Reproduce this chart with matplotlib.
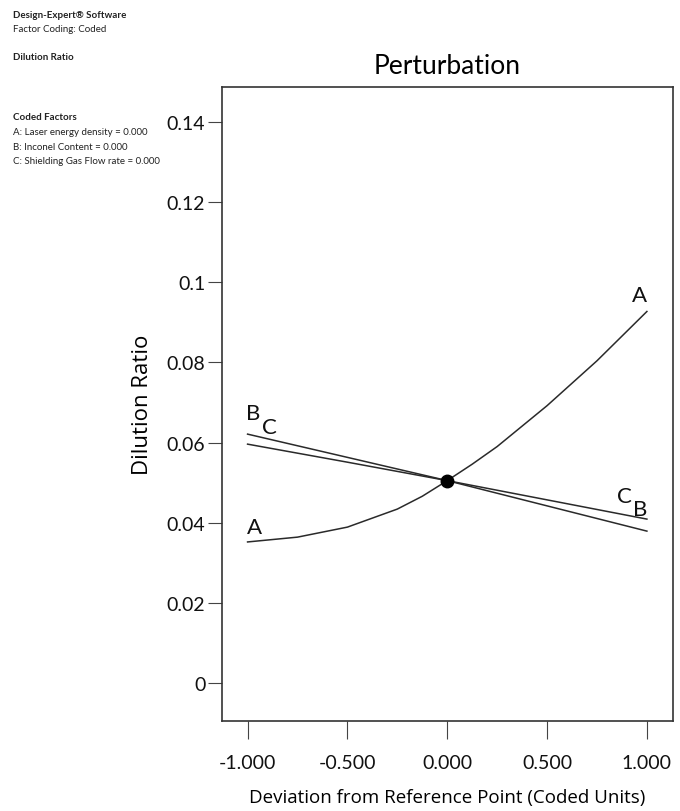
import numpy as np
import matplotlib
matplotlib.use("Agg")
import matplotlib.pyplot as plt

plt.rcParams['font.family'] = ['Lato', 'DejaVu Sans']

# coded deviation from reference point
x_a = [-1.0, -0.75, -0.5, -0.25, -0.125, 0.0, 0.125, 0.25, 0.5, 0.75, 1.0]
dilution_a = [0.0352, 0.0364, 0.0389, 0.0434, 0.0466, 0.0505, 0.0546, 0.0590,
              0.0692, 0.0804, 0.0927]

x_bc = [-1.0, -0.5, 0.0, 0.5, 1.0]
dilution_b = [0.0621, 0.0563, 0.0505, 0.0442, 0.0379]
dilution_c = [0.0596, 0.0551, 0.0505, 0.0457, 0.0409]

ref_x, ref_y = 0.0, 0.0505

yticks = [0, 0.02, 0.04, 0.06, 0.08, 0.1, 0.12, 0.14]
ytick_labels = ["0", "0.02", "0.04", "0.06", "0.08", "0.1", "0.12", "0.14"]
xticks = [-1.0, -0.5, 0.0, 0.5, 1.0]
xtick_labels = ["-1.000", "-0.500", "0.000", "0.500", "1.000"]

fig = plt.figure(figsize=(6.8, 8.12), dpi=100)
ax = fig.add_axes([0.3265, 0.1108, 0.663, 0.7808])

line_kw = dict(color="#2a2a2a", lw=1.1)
ax.plot(x_a, dilution_a, **line_kw)
ax.plot(x_bc, dilution_b, **line_kw)
ax.plot(x_bc, dilution_c, **line_kw)
ax.plot([ref_x], [ref_y], "o", color="black", ms=9)

# curve letters
lab_kw = dict(fontsize=16, ha="center", va="center", color="#111111")
ax.text(-0.965, 0.0389, "A", **lab_kw)
ax.text(-0.97, 0.0674, "B", **lab_kw)
ax.text(-0.89, 0.0639, "C", **lab_kw)
ax.text(0.965, 0.0968, "A", **lab_kw)
ax.text(0.885, 0.0467, "C", **lab_kw)
ax.text(0.965, 0.0434, "B", **lab_kw)

ax.set_xlim(-1.128, 1.130)
ax.set_ylim(-0.00948, 0.1487)
ax.set_yticks(yticks)
ax.set_yticklabels(ytick_labels)
ax.set_xticks(xticks)
ax.set_xticklabels(xtick_labels)
ax.tick_params(axis="y", direction="out", length=10, width=0.8, pad=2,
               labelsize=14, colors="#444444", labelcolor="#111111")
ax.tick_params(axis="x", direction="out", length=13, width=0.8, pad=11,
               labelsize=14, colors="#444444", labelcolor="#111111")
for s in ax.spines.values():
    s.set_color("#333333")
    s.set_linewidth(1.2)

ax.set_title("Perturbation", fontsize=19, pad=10)
ax.set_xlabel("Deviation from Reference Point (Coded Units)", fontsize=13.5,
              family=["Open Sans", "DejaVu Sans"], labelpad=12)
ax.set_ylabel("Dilution Ratio", fontsize=16, family=["Open Sans", "DejaVu Sans"])
ax.yaxis.set_label_coords(-0.152, 0.5)

# Design-Expert info block
info = [
    (15, "Design-Expert\u00ae Software", "bold"),
    (29, "Factor Coding: Coded", "normal"),
    (57, "Dilution Ratio", "bold"),
    (118, "Coded Factors", "bold"),
    (133, "A: Laser energy density = 0.000", "normal"),
    (148, "B: Inconel Content = 0.000", "normal"),
    (162, "C: Shielding Gas Flow rate = 0.000", "normal"),
]
for py, txt, wt in info:
    fig.text(13 / 680, 1 - py / 812, txt, fontsize=7, fontweight=wt,
             ha="left", va="center", color="#222222")

fig.savefig("out.png", dpi=100)
